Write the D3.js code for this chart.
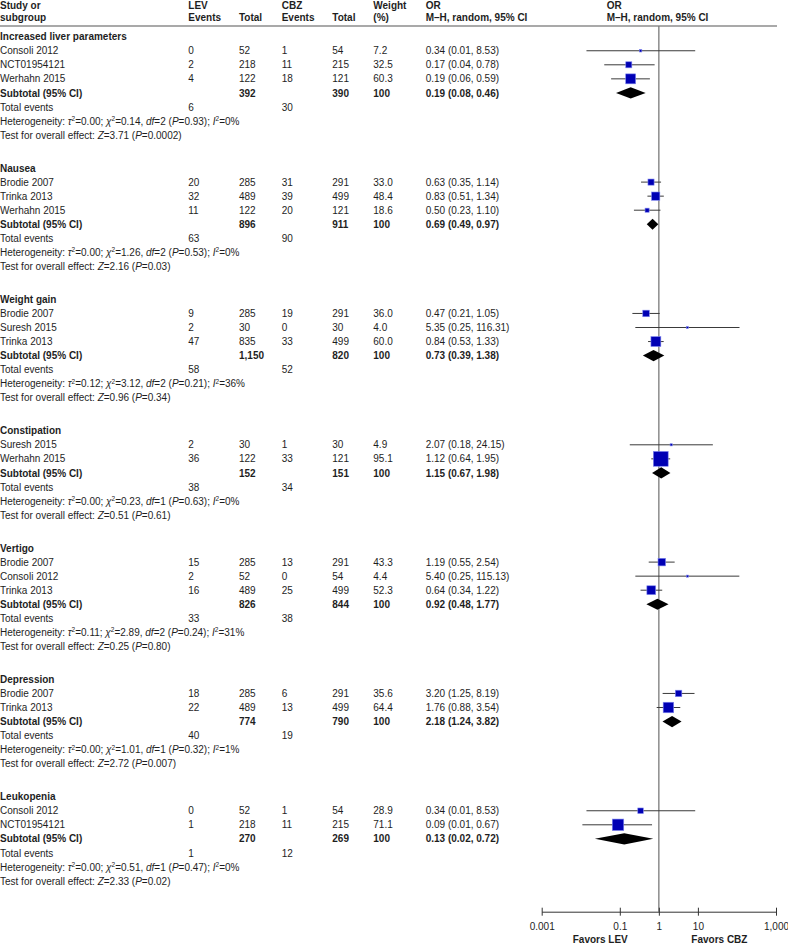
<!DOCTYPE html>
<html>
<head>
<meta charset="utf-8">
<script src="https://cdn.jsdelivr.net/npm/d3@7"></script>
<style>
  html, body { margin: 0; padding: 0; background: #fff; }
  svg { display: block; font-family: "Liberation Sans", Arial, sans-serif; }
  text { fill: #1e1e1e; font-size: 10px; }
  .b { font-weight: bold; }
</style>
</head>
<body>
<svg id="chart" width="788" height="944"></svg>
<script>
// ---------------- DATA ----------------
const groupNames = ["Increased liver parameters", "Nausea", "Weight gain", "Constipation", "Vertigo", "Depression", "Leukopenia"];

const studyGroup  = [0, 0, 0, 1, 1, 1, 2, 2, 2, 3, 3, 4, 4, 4, 5, 5, 6, 6];
const studyNames  = ["Consoli 2012", "NCT01954121", "Werhahn 2015",
                     "Brodie 2007", "Trinka 2013", "Werhahn 2015",
                     "Brodie 2007", "Suresh 2015", "Trinka 2013",
                     "Suresh 2015", "Werhahn 2015",
                     "Brodie 2007", "Consoli 2012", "Trinka 2013",
                     "Brodie 2007", "Trinka 2013",
                     "Consoli 2012", "NCT01954121"];
const levEvents   = [0, 2, 4, 20, 32, 11, 9, 2, 47, 2, 36, 15, 2, 16, 18, 22, 0, 1];
const levTotal    = [52, 218, 122, 285, 489, 122, 285, 30, 835, 30, 122, 285, 52, 489, 285, 489, 52, 218];
const cbzEvents   = [1, 11, 18, 31, 39, 20, 19, 0, 33, 1, 33, 13, 0, 25, 6, 13, 1, 11];
const cbzTotal    = [54, 215, 121, 291, 499, 121, 291, 30, 499, 30, 121, 291, 54, 499, 291, 499, 54, 215];
const weights     = [7.2, 32.5, 60.3, 33.0, 48.4, 18.6, 36.0, 4.0, 60.0, 4.9, 95.1, 43.3, 4.4, 52.3, 35.6, 64.4, 28.9, 71.1];
const orEst       = [0.34, 0.17, 0.19, 0.63, 0.83, 0.50, 0.47, 5.35, 0.84, 2.07, 1.12, 1.19, 5.40, 0.64, 3.20, 1.76, 0.34, 0.09];
const orLow       = [0.014, 0.04, 0.06, 0.35, 0.51, 0.23, 0.21, 0.25, 0.53, 0.18, 0.64, 0.55, 0.25, 0.34, 1.25, 0.88, 0.014, 0.011];
const orHigh      = [8.53, 0.78, 0.59, 1.14, 1.34, 1.10, 1.05, 116.31, 1.33, 24.15, 1.95, 2.54, 115.13, 1.22, 8.19, 3.54, 8.53, 0.67];

const subLevTotal = ["392", "896", "1,150", "152", "826", "774", "270"];
const subCbzTotal = ["390", "911", "820", "151", "844", "790", "269"];
const subOR       = [0.19, 0.69, 0.73, 1.15, 0.92, 2.18, 0.13];
const subLow      = [0.08, 0.49, 0.39, 0.67, 0.48, 1.24, 0.023];
const subHigh     = [0.46, 0.97, 1.38, 1.98, 1.77, 3.82, 0.72];
const totLevEvents = [6, 63, 58, 38, 33, 40, 1];
const totCbzEvents = [30, 90, 52, 34, 38, 19, 12];
const hetTau2     = ["0.00", "0.00", "0.12", "0.00", "0.11", "0.00", "0.00"];
const hetChi2     = ["0.14", "1.26", "3.12", "0.23", "2.89", "1.01", "0.51"];
const hetDf       = [2, 2, 2, 1, 2, 1, 1];
const hetP        = ["0.93", "0.53", "0.21", "0.63", "0.24", "0.32", "0.47"];
const hetI2       = ["0", "0", "36", "0", "31", "1", "0"];
const effZ        = ["3.71", "2.16", "0.96", "0.51", "0.25", "2.72", "2.33"];
const effP        = ["0.0002", "0.03", "0.34", "0.61", "0.80", "0.007", "0.02"];

const axisTicks   = [0.001, 0.1, 1, 10, 1000];
const favorsLabels = ["Favors LEV", "Favors CBZ"];

// ---------------- LAYOUT ----------------
const svg = d3.select("#chart");
const colX = { study: 0, levE: 188.3, levT: 239, cbzE: 281.7, cbzT: 332.3, w: 373.3, or: 425.7, plot: 606.7 };
const x = d3.scaleLog().domain([0.001, 1000]).range([541.7, 776]);
const fmt2 = d3.format(".2f");
const orText = (e, l, h) => `${fmt2(e)} (${fmt2(l)}, ${fmt2(h)})`;

// Build the row list
const rows = [];
groupNames.forEach((g, gi) => {
  rows.push({ type: "title", g: gi });
  studyGroup.forEach((sg, si) => { if (sg === gi) rows.push({ type: "study", g: gi, i: si }); });
  rows.push({ type: "sub", g: gi });
  rows.push({ type: "tot", g: gi });
  rows.push({ type: "het", g: gi });
  rows.push({ type: "eff", g: gi });
});
// position units: each row 1 unit, gaps between groups extra
const rowStep = 14.05, groupGap = 33;
let yCur = 36.7;
rows.forEach((r, k) => {
  if (k > 0) yCur += (r.type === "title") ? groupGap : rowStep;
  r.y = yCur;
});
const base = 3.6; // text center to baseline

// Header
const hdr = svg.append("g").attr("class", "b");
const h1 = 9, h2 = 20.5;
[["Study or", "subgroup", colX.study], ["LEV", "Events", colX.levE], [null, "Total", colX.levT],
 ["CBZ", "Events", colX.cbzE], [null, "Total", colX.cbzT], ["Weight", "(%)", colX.w],
 ["OR", "M\u2013H, random, 95% CI", colX.or], ["OR", "M\u2013H, random, 95% CI", colX.plot]].forEach(([a, b, cx]) => {
  if (a) hdr.append("text").attr("class", "b").attr("x", cx).attr("y", h1).text(a);
  hdr.append("text").attr("class", "b").attr("x", cx).attr("y", h2).text(b);
});
svg.append("line").attr("x1", 0).attr("x2", 777).attr("y1", 26).attr("y2", 26)
  .attr("stroke", "#8c8c8c").attr("stroke-width", 1.4);

// Vertical line of no effect
const axisY = 911.7;
svg.append("line").attr("x1", x(1)).attr("x2", x(1)).attr("y1", 26).attr("y2", axisY)
  .attr("stroke", "#7a7a7a").attr("stroke-width", 1.3);

const txt = svg.append("g");
const plot = svg.append("g");
const boxSize = d3.scaleLinear().domain([0, 100]).range([1.5, 15.5]);

function put(xp, y, s, bold) {
  const t = txt.append("text").attr("x", xp).attr("y", y + base).text(s);
  if (bold) t.attr("class", "b");
  return t;
}
function sup(t, s) {
  t.append("tspan").attr("dy", -3.5).attr("font-size", "6.5px").text(s);
  return t.append("tspan").attr("dy", 3.5);
}

rows.forEach(r => {
  const gi = r.g;
  if (r.type === "title") {
    put(colX.study, r.y, groupNames[gi], true);
  } else if (r.type === "study") {
    const i = r.i;
    put(colX.study, r.y, studyNames[i]);
    put(colX.levE, r.y, levEvents[i]);
    put(colX.levT, r.y, levTotal[i]);
    put(colX.cbzE, r.y, cbzEvents[i]);
    put(colX.cbzT, r.y, cbzTotal[i]);
    put(colX.w, r.y, d3.format(".1f")(weights[i]));
    put(colX.or, r.y, orText(orEst[i], orLow[i], orHigh[i]));
    plot.append("line").attr("x1", x(orLow[i])).attr("x2", x(orHigh[i]))
      .attr("y1", r.y).attr("y2", r.y).attr("stroke", "#3a3a3a").attr("stroke-width", 1);
    const s = boxSize(weights[i]);
    plot.append("rect").attr("x", x(orEst[i]) - s / 2).attr("y", r.y - s / 2)
      .attr("width", s).attr("height", s)
      .attr("fill", "#0000b4").attr("stroke", "#7f86f0").attr("stroke-width", 0.6);
  } else if (r.type === "sub") {
    put(colX.study, r.y, "Subtotal (95% CI)", true);
    put(colX.levT, r.y, subLevTotal[gi], true);
    put(colX.cbzT, r.y, subCbzTotal[gi], true);
    put(colX.w, r.y, "100", true);
    put(colX.or, r.y, orText(subOR[gi], subLow[gi], subHigh[gi]), true);
    const hh = 5.6;
    const pts = [[x(subLow[gi]), r.y], [x(subOR[gi]), r.y - hh], [x(subHigh[gi]), r.y], [x(subOR[gi]), r.y + hh]];
    plot.append("path").attr("d", d3.line()(pts) + "Z").attr("fill", "#000");
  } else if (r.type === "tot") {
    put(colX.study, r.y, "Total events");
    put(colX.levE, r.y, totLevEvents[gi]);
    put(colX.cbzE, r.y, totCbzEvents[gi]);
  } else if (r.type === "het") {
    let t = put(colX.study, r.y, "Heterogeneity: ");
    t.append("tspan").attr("font-style", "italic").text("\u03C4");
    t = sup(t, "2");
    t.text("=" + hetTau2[gi] + "; ");
    t.append("tspan").attr("font-style", "italic").text("\u03C7");
    let u = sup(t, "2");
    u.text("=" + hetChi2[gi] + ", ");
    t.append("tspan").attr("font-style", "italic").text("df");
    t.append("tspan").text("=" + hetDf[gi] + " (");
    t.append("tspan").attr("font-style", "italic").text("P");
    t.append("tspan").text("=" + hetP[gi] + "); ");
    t.append("tspan").attr("font-style", "italic").text("I");
    u = sup(t, "2");
    u.text("=" + hetI2[gi] + "%");
  } else if (r.type === "eff") {
    const t = put(colX.study, r.y, "Test for overall effect: ");
    t.append("tspan").attr("font-style", "italic").text("Z");
    t.append("tspan").text("=" + effZ[gi] + " (");
    t.append("tspan").attr("font-style", "italic").text("P");
    t.append("tspan").text("=" + effP[gi] + ")");
  }
});

// Axis
const axis = d3.axisBottom(x).tickValues(axisTicks).tickFormat(d3.format(","))
  .tickSizeInner(4).tickSizeOuter(0).tickPadding(7);
const ag = svg.append("g").attr("transform", `translate(0,${axisY})`).call(axis);
ag.select(".domain").attr("stroke", "#333").attr("stroke-width", 1);
ag.selectAll(".tick line").attr("y1", -4).attr("y2", 4).attr("stroke", "#333");
ag.selectAll(".tick text").attr("font-size", "10px").attr("font-family", null).style("fill", "#1e1e1e");

// Favors labels
svg.append("text").attr("class", "b").attr("text-anchor", "middle")
  .attr("x", x(Math.pow(10, -1.5))).attr("y", 943).text(favorsLabels[0]);
svg.append("text").attr("class", "b").attr("text-anchor", "middle")
  .attr("x", x(Math.pow(10, 1.55))).attr("y", 943).text(favorsLabels[1]);
</script>
</body>
</html>
